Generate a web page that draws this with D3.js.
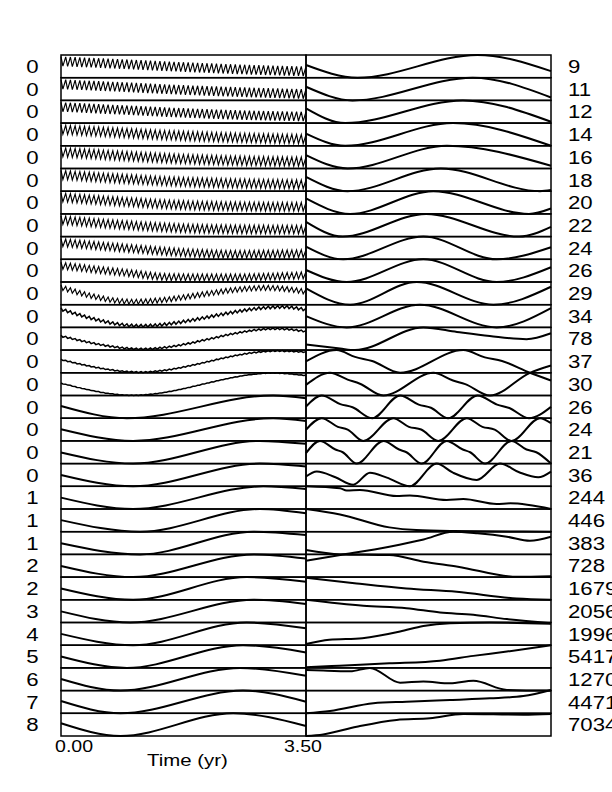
<!DOCTYPE html>
<html><head><meta charset="utf-8">
<script src="https://cdn.jsdelivr.net/npm/d3@7"></script>
<style>body{margin:0;background:#fff}</style>
</head><body><svg id="c" width="612" height="792"></svg>
<script>
// ---------- data ----------
const leftLabels = ["0","0","0","0","0","0","0","0","0","0","0","0","0","0","0","0","0","0","0","1","1","1","2","2","3","4","5","6","7","8"];
const rightLabels = ["9","11","12","14","16","18","20","22","24","26","29","34","78","37","30","26","24","21","36","244","446","383","728","1679","2056","1996","5417","1270","4471","7034"];
const xTicks = [0, 3.5];
const xTitle = "Time (yr)";
// reconstructed components: smooth part, key points [time (yr), value scaled to panel 0..1]
const rcCurves = [
 [[0,0.72],[0.875,0.6],[1.75,0.47],[2.625,0.36],[3.5,0.28]],
 [[0,0.71],[0.875,0.59],[1.75,0.46],[2.625,0.36],[3.5,0.28]],
 [[0,0.71],[0.875,0.58],[1.75,0.45],[2.625,0.35],[3.5,0.29]],
 [[0,0.71],[0.875,0.57],[1.75,0.44],[2.625,0.35],[3.5,0.29]],
 [[0,0.72],[0.875,0.56],[1.75,0.42],[2.625,0.34],[3.5,0.3]],
 [[0,0.72],[0.875,0.55],[1.75,0.41],[2.625,0.34],[3.5,0.3]],
 [[0,0.73],[0.875,0.54],[1.75,0.39],[2.625,0.33],[3.5,0.31]],
 [[0,0.73],[0.875,0.52],[1.75,0.37],[2.625,0.32],[3.5,0.31]],
 [[0,0.74],[0.9,0.5],[1.75,0.3],[2.5,0.22],[3.5,0.25]],
 [[0,0.72],[0.9,0.42],[1.6,0.21],[2.4,0.2],[3.5,0.3]],
 [[0,0.76],[1.03,0.13],[2.94,0.74],[3.5,0.57]],
 [[0,0.8],[1.13,0.07],[3.17,0.9],[3.5,0.78]],
 [[0,0.62],[1.17,0.05],[3.08,0.94],[3.5,0.82]],
 [[0,0.58],[1.13,0.03],[3.08,0.96],[3.5,0.91]],
 [[0,0.54],[1.03,0.01],[3.03,0.99],[3.5,0.88]],
 [[0,0.54],[0.94,0],[3.03,1],[3.5,0.88]],
 [[0,0.51],[1.03,0],[3.03,1],[3.5,0.88]],
 [[0,0.49],[1.03,0],[2.84,1],[3.5,0.87]],
 [[0,0.5],[1.03,0],[2.84,1],[3.5,0.87]],
 [[0,0.5],[1.03,0],[2.89,1],[3.5,0.88]],
 [[0,0.51],[1.13,0],[2.84,1],[3.5,0.81]],
 [[0,0.49],[1.13,0],[2.75,1],[3.5,0.85]],
 [[0,0.49],[1.03,0],[2.75,1],[3.5,0.82]],
 [[0,0.5],[1.03,0],[2.65,1],[3.5,0.8]],
 [[0,0.49],[0.99,0],[2.75,1],[3.5,0.82]],
 [[0,0.5],[1.03,0],[2.65,1],[3.5,0.75]],
 [[0,0.5],[0.94,0],[2.6,1],[3.5,0.68]],
 [[0,0.51],[0.85,0],[2.56,1],[3.5,0.65]],
 [[0,0.54],[0.85,0],[2.6,1],[3.5,0.51]],
 [[0,0.56],[0.85,0],[2.46,1],[3.5,0.44]]
];
// peak-to-peak size of the fast oscillation riding on each component (fraction of panel)
const rcBand = [0.42,0.42,0.41,0.4,0.4,0.39,0.38,0.37,0.34,0.3,0.22,0.12,0.07,0.045,0.02,0.01,0,0,0,0,0,0,0,0,0,0,0,0,0,0];
const bandCycles = 52;
// eigenvectors: key points [lag (fraction of window), value scaled to panel 0..1]
const eofCurves = [
 [[0,0.56],[0.21,0],[0.70,1],[1,0.29]],
 [[0,0.6],[0.19,0],[0.68,1],[1,0.13]],
 [[0,0.65],[0.16,0],[0.64,1],[1,0.06]],
 [[0,0.54],[0.16,0],[0.60,1],[1,0]],
 [[0,0.59],[0.17,0],[0.575,1],[1,0.12]],
 [[0,0.63],[0.17,0],[0.55,1],[0.955,0],[1,0.05]],
 [[0,0.68],[0.18,0],[0.52,1],[0.91,0],[1,0.24]],
 [[0,0.65],[0.15,0],[0.49,1],[0.87,0],[1,0.43]],
 [[0,0.56],[0.152,0],[0.479,1],[0.778,0],[1,0.53]],
 [[0,0.53],[0.166,0],[0.479,1],[0.778,0],[1,0.65]],
 [[0,0.72],[0.18,0],[0.452,1],[0.765,0],[1,0.79]],
 [[0,0.5],[0.166,0],[0.465,1],[0.778,0],[1,0.85]],
 [[0,0.25],[0.139,0.07],[0.2,0],[0.479,1],[0.616,0.8],[0.75,0.62],[0.9,0.48],[1,0.74]],
 [[0,0.5],[0.125,1],[0.2,0.7],[0.27,0.52],[0.384,0],[0.642,1],[0.73,0.68],[0.8,0.52],[0.914,0],[1,-0.34]],
 [[0,0.47],[0.098,1],[0.17,0.7],[0.22,0.52],[0.316,0],[0.52,1],[0.6,0.66],[0.65,0.5],[0.751,0],[0.914,1],[1,1.32]],
 [[0,0.51],[0.064,1],[0.14,0.62],[0.19,0.48],[0.27,0],[0.384,1],[0.46,0.6],[0.51,0.46],[0.58,0],[0.7,1],[0.78,0.6],[0.83,0.45],[0.91,0],[1,0.5]],
 [[0,0.49],[0.064,1],[0.13,0.62],[0.17,0.5],[0.234,0],[0.356,1],[0.42,0.62],[0.47,0.5],[0.54,0],[0.656,1],[0.72,0.62],[0.77,0.5],[0.839,0],[0.955,1],[1,0.78]],
 [[0,0.46],[0.057,1],[0.12,0.62],[0.15,0.5],[0.207,0],[0.316,1],[0.38,0.62],[0.41,0.5],[0.472,0],[0.574,1],[0.64,0.62],[0.67,0.5],[0.731,0],[0.839,1],[0.9,0.62],[0.94,0.5],[1,0]],
 [[0,0.43],[0.044,0.65],[0.12,0.4],[0.193,0.07],[0.261,0.6],[0.33,0.38],[0.424,0],[0.533,1],[0.6,0.6],[0.697,0.28],[0.792,1],[0.87,0.62],[0.948,0.4],[1,0.65]],
 [[0,1],[0.139,0.91],[0.166,0.81],[0.22,0.84],[0.37,0.57],[0.424,0.6],[0.574,0.4],[0.642,0.44],[0.778,0.22],[0.833,0.25],[1,0]],
 [[0,1],[0.139,0.76],[0.34,0.19],[0.45,0.07],[0.6,0.03],[1,0]],
 [[0,-0.28],[0.14,-0.03],[0.34,0.34],[0.48,0.66],[0.6,1.0],[0.7,0.93],[0.82,0.78],[0.914,0.6],[1,0.78]],
 [[0,1.19],[0.14,1.0],[0.34,0.97],[0.48,0.68],[0.62,0.46],[0.86,0.01],[1,0.04]],
 [[0,0.97],[0.207,0.72],[0.41,0.5],[0.615,0.35],[0.86,0.06],[1,0]],
 [[0,1],[0.234,0.74],[0.41,0.63],[0.547,0.44],[0.683,0.34],[0.82,0.15],[1,-0.03]],
 [[0,0.05],[0.095,0.24],[0.23,0.31],[0.384,0.6],[0.479,0.85],[0.588,0.97],[0.75,1],[1,0.94]],
 [[0,0.03],[0.136,0.1],[0.34,0.2],[0.547,0.32],[0.683,0.53],[0.82,0.72],[1,1]],
 [[0,0.91],[0.07,0.88],[0.18,0.85],[0.261,1.0],[0.384,0.35],[0.479,0.4],[0.588,0.32],[0.683,0.43],[0.82,0.03],[1,0]],
 [[0,0],[0.098,0.1],[0.275,0.44],[0.41,0.51],[0.588,0.59],[0.75,0.66],[0.887,0.76],[1,1.03]],
 [[0,0],[0.07,0.07],[0.207,0.41],[0.37,0.71],[0.506,0.78],[0.642,0.97],[0.887,0.94],[1,0.97]]
];

// ---------- layout ----------
const svg = d3.select("#c");
const FONT = "'Liberation Sans', Arial, Helvetica, sans-serif";
const SX = 1.2; // horizontal stretch of the lettering
const rows = d3.scaleBand().domain(d3.range(30)).range([55, 736]);
const xL = d3.scaleLinear().domain([0, 3.5]).range([61, 306]);
const xR = d3.scaleLinear().domain([0, 1]).range([306, 551]);
const yRow = i => d3.scaleLinear().domain([0, 1]).range([rows(i) + rows.bandwidth(), rows(i)]);

function stretchedText(x, y, str, size, anchor) {
  svg.append("g").attr("transform", `translate(${x},${y}) scale(${SX},1)`)
    .append("text").attr("font-family", FONT).attr("font-size", size)
    .attr("text-anchor", anchor).attr("fill", "#000").text(str);
}

// panels
const panels = svg.append("g");
d3.range(30).forEach(i => {
  [[61, 306], [306, 551]].forEach(([a, b]) => {
    panels.append("rect").attr("x", a).attr("y", rows(i)).attr("width", b - a)
      .attr("height", rows.bandwidth()).attr("fill", "none").attr("stroke", "#000").attr("stroke-width", 1.5);
  });
});

const gL = svg.append("g"), gR = svg.append("g");
rcCurves.forEach((pts, i) => {
  const y = yRow(i);
  const line = d3.line().x(d => xL(d[0])).y(d => y(d[1])).curve(d3.curveMonotoneX);
  const path = gL.append("path").attr("d", line(pts)).attr("fill", "none")
    .attr("stroke", "#000").attr("stroke-width", 2);
  const amp = rcBand[i] * rows.bandwidth();
  if (amp > 0.3) {
    const node = path.node(), L = node.getTotalLength();
    const yAt = px => {
      let lo = 0, hi = L;
      for (let k = 0; k < 22; k++) {
        const m = (lo + hi) / 2;
        if (node.getPointAtLength(m).x < px) lo = m; else hi = m;
      }
      return node.getPointAtLength((lo + hi) / 2).y;
    };
    const P = (xL(3.5) - xL(0)) / bandCycles;
    const zz = [];
    for (let k = 0; k <= bandCycles; k++) {
      const x0 = xL(0) + k * P;
      zz.push([x0, yAt(Math.min(x0, 305.9)) - amp / 2]);
      const x1 = x0 + 0.4 * P;
      if (x1 < xL(3.5)) zz.push([x1, yAt(x1) + amp / 2]);
    }
    path.attr("d", d3.line()(zz)).attr("stroke", "#000")
      .attr("stroke-width", amp > 3 ? 1.15 : 1.5).attr("stroke-linejoin", "miter");
  }
});
eofCurves.forEach((pts, i) => {
  const y = yRow(i);
  const line = d3.line().x(d => xR(d[0])).y(d => y(d[1])).curve(d3.curveMonotoneX);
  gR.append("path").attr("d", line(pts)).attr("fill", "none")
    .attr("stroke", "#000").attr("stroke-width", 2);
});

// labels
leftLabels.forEach((s, i) => stretchedText(38.5, rows(i) + rows.bandwidth() / 2 + 6.7, s, 18.5, "end"));
rightLabels.forEach((s, i) => stretchedText(568, rows(i) + rows.bandwidth() / 2 + 6.7, s, 18.5, "start"));

// time axis labels
const fmt = d3.format(".2f");
stretchedText(xL(xTicks[0]) - 6, 752, fmt(xTicks[0]), 16.3, "start");
stretchedText(xL(xTicks[1]) + 16, 752, fmt(xTicks[1]), 16.3, "end");
stretchedText(147, 765.5, xTitle, 17, "start");
</script>
</body></html>
